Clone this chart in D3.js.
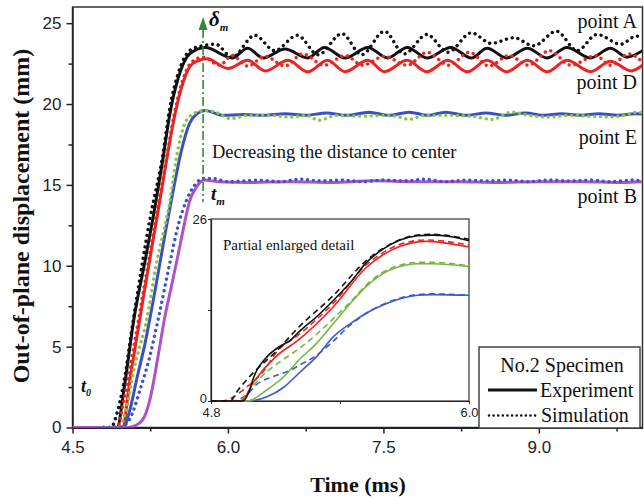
<!DOCTYPE html>
<html><head><meta charset="utf-8">
<script src="https://cdn.jsdelivr.net/npm/d3@7"></script>
<style>body{margin:0;background:#fff} svg{display:block}</style>
</head><body><svg id="c" width="644" height="500"></svg>
<script>
// ---------- data (time in ms, displacement in mm) ----------
const xMajor = [4.5, 6.0, 7.5, 9.0];
const xMinor = [5.25, 6.75, 8.25, 9.75];
const yMajor = [0, 5, 10, 15, 20, 25];
const yMinor = [2.5, 7.5, 12.5, 17.5, 22.5];
const tm = 5.76;

const pointA_exp = [[4.5,0],[4.93,0],[5.0,2.5],[5.09,6.6],[5.2,10.3],[5.3,13.8],[5.37,16.5],[5.44,19.4],[5.52,21.6],[5.63,23.1],[5.78,23.5],[6.04,22.85],[6.19,23.45],[6.34,22.85],[6.55,23.4],[6.77,22.85],[6.93,23.5],[7.13,22.85],[7.35,23.5],[7.54,22.85],[7.73,23.5],[7.92,22.85],[8.15,23.5],[8.35,22.85],[8.5,23.45],[8.69,22.85],[8.89,23.45],[9.08,22.85],[9.27,23.5],[9.5,22.85],[9.69,23.45],[9.85,22.9],[10.0,23.3]];
const pointA_sim = [[4.8,0],[4.87,0],[4.93,0.9],[4.99,2.6],[5.09,6.8],[5.25,13.0],[5.37,16.8],[5.44,19.8],[5.52,21.9],[5.63,23.3],[5.75,23.6],[5.88,23.7],[6.04,22.9],[6.26,24.25],[6.45,23.3],[6.67,24.25],[6.87,23.05],[7.1,24.35],[7.29,23.05],[7.51,24.5],[7.7,23.1],[7.92,24.3],[8.12,23.2],[8.35,24.4],[8.54,23.75],[8.76,24.1],[8.95,23.6],[9.17,24.5],[9.37,23.3],[9.56,24.3],[9.79,23.7],[9.94,24.2],[10.0,24.1]];
const pointD_exp = [[4.5,0],[4.98,0],[5.06,3.2],[5.18,7.9],[5.27,11.3],[5.35,14.3],[5.42,17.0],[5.49,19.4],[5.57,21.4],[5.66,22.5],[5.8,22.8],[6.0,22.2],[6.19,22.7],[6.36,22.05],[6.58,22.7],[6.77,22.0],[6.96,22.7],[7.13,22.0],[7.35,22.7],[7.51,22.0],[7.73,22.7],[7.92,22.0],[8.12,22.7],[8.31,22.0],[8.5,22.7],[8.69,22.0],[8.89,22.7],[9.08,22.0],[9.27,22.7],[9.5,22.0],[9.69,22.65],[9.89,22.05],[10.0,22.4]];
const pointD_sim = [[4.8,0],[4.93,0],[5.0,1.8],[5.1,5.3],[5.2,9.0],[5.3,12.8],[5.4,16.4],[5.48,19.3],[5.56,21.4],[5.65,22.6],[5.76,22.9],[5.92,22.4],[6.04,23.0],[6.19,22.35],[6.36,22.95],[6.55,22.35],[6.72,23.1],[6.93,22.4],[7.13,23.0],[7.3,22.4],[7.51,22.95],[7.73,22.4],[7.92,23.2],[8.13,22.4],[8.33,23.2],[8.52,22.35],[8.71,23.0],[8.9,22.4],[9.1,23.3],[9.31,22.4],[9.55,23.0],[9.69,22.4],[9.87,23.1],[10.0,22.6]];
const pointE_exp = [[4.5,0],[4.99,0],[5.05,1.0],[5.12,3.0],[5.2,5.2],[5.3,8.6],[5.4,12.2],[5.47,14.6],[5.55,17.1],[5.63,18.8],[5.7,19.4],[5.78,19.6],[5.95,19.3],[6.15,19.35],[6.35,19.3],[6.55,19.4],[6.75,19.3],[6.95,19.45],[7.15,19.3],[7.36,19.5],[7.55,19.3],[7.75,19.5],[7.93,19.3],[8.1,19.5],[8.3,19.3],[8.49,19.45],[8.68,19.3],[8.87,19.45],[9.05,19.3],[9.22,19.4],[9.4,19.3],[9.58,19.4],[9.76,19.3],[9.93,19.4],[10.0,19.38]];
const pointE_sim = [[4.8,0],[4.95,0],[5.02,1.2],[5.1,3.8],[5.22,6.8],[5.3,9.8],[5.44,14.0],[5.52,17.3],[5.6,19.0],[5.7,19.5],[5.78,19.6],[5.9,19.45],[6.02,19.1],[6.2,19.3],[6.4,19.3],[6.6,19.2],[6.75,19.3],[6.88,19.0],[7.05,19.3],[7.3,19.25],[7.5,19.3],[7.62,19.25],[7.75,19.05],[7.9,19.3],[8.15,19.3],[8.35,19.25],[8.55,19.05],[8.74,19.5],[8.9,19.3],[9.1,19.2],[9.3,19.3],[9.5,19.25],[9.7,19.2],[9.85,19.35],[9.96,19.5],[10.0,19.45]];
const pointB_exp = [[4.5,0],[5.03,0],[5.1,0.1],[5.18,0.5],[5.25,1.8],[5.32,4.2],[5.39,6.8],[5.45,8.6],[5.51,10.4],[5.57,12.3],[5.63,14.0],[5.7,14.9],[5.77,15.3],[5.9,15.2],[6.2,15.15],[6.6,15.2],[7.0,15.15],[7.4,15.25],[7.8,15.2],[8.2,15.2],[8.6,15.15],[9.0,15.2],[9.4,15.2],[9.8,15.15],[10.0,15.2]];
const pointB_sim = [[4.8,0],[4.95,0],[5.05,0.5],[5.15,2.3],[5.25,4.5],[5.33,6.8],[5.45,10.5],[5.52,12.5],[5.6,14.05],[5.68,15.0],[5.77,15.4],[5.85,15.4],[6.0,15.2],[6.3,15.3],[6.5,15.2],[6.7,15.35],[6.9,15.25],[7.1,15.3],[7.3,15.2],[7.5,15.3],[7.7,15.25],[7.9,15.35],[8.1,15.2],[8.3,15.3],[8.5,15.25],[8.7,15.3],[8.9,15.2],[9.1,15.3],[9.3,15.25],[9.5,15.3],[9.7,15.2],[9.9,15.3],[10.0,15.25]];

// inset (partial enlarged detail)
const insetX = [4.8, 5.4, 6.0];
const insetY = [0, 13, 26];
const inBlackExp = [[4.8,0],[4.95,0],[4.98,1.6],[5.0,3.5],[5.06,6.3],[5.12,7.8],[5.17,8.7],[5.21,9.9],[5.29,12.0],[5.37,14.4],[5.45,17.0],[5.52,19.7],[5.6,21.7],[5.68,23.0],[5.76,23.6],[5.83,23.7],[5.91,23.5],[6.0,22.9]];
const inBlackSim = [[4.8,0],[4.89,0],[4.92,1.3],[4.98,3.5],[5.1,7.0],[5.21,10.6],[5.37,15.1],[5.52,20.0],[5.6,21.8],[5.76,23.7],[5.83,23.8],[6.0,23.1]];
const inRedExp = [[4.8,0],[4.94,0],[5.0,2.8],[5.1,6.3],[5.21,8.8],[5.37,13.5],[5.52,19.0],[5.6,20.9],[5.68,22.1],[5.8,22.8],[6.0,22.0]];
const inRedSim = [[4.8,0],[4.85,0],[4.9,0.5],[4.95,1.6],[5.05,4.5],[5.1,6.8],[5.21,9.5],[5.37,14.0],[5.52,19.4],[5.6,21.2],[5.68,22.4],[5.8,23.0],[6.0,22.3]];
const inGreenExp = [[4.8,0],[4.97,0],[5.06,1.6],[5.14,3.5],[5.21,5.9],[5.29,8.2],[5.37,11.1],[5.45,14.0],[5.52,16.3],[5.6,18.2],[5.68,19.2],[5.76,19.6],[5.83,19.6],[6.0,19.2]];
const inGreenSim = [[4.8,0],[4.93,0],[4.99,2.0],[5.06,4.2],[5.14,6.0],[5.21,7.5],[5.29,9.5],[5.37,11.8],[5.45,14.2],[5.52,16.5],[5.6,18.4],[5.68,19.4],[5.76,19.8],[5.83,19.8],[6.0,19.3]];
const inBlueExp = [[4.8,0],[4.98,0],[5.06,0.6],[5.14,2.0],[5.21,4.0],[5.29,6.3],[5.37,9.2],[5.45,11.1],[5.52,12.5],[5.6,13.7],[5.68,14.6],[5.76,15.1],[5.83,15.2],[6.0,15.1]];
const inBlueSim = [[4.8,0],[4.9,0],[4.97,1.0],[5.01,2.3],[5.09,3.5],[5.17,4.4],[5.21,5.1],[5.29,6.5],[5.37,8.6],[5.45,10.9],[5.52,12.5],[5.6,13.8],[5.68,14.7],[5.76,15.2],[5.83,15.3],[6.0,15.1]];

const pointLabels = [["point A",24.7],["point D",20.9],["point E",17.5],["point B",13.9]];

// ---------- drawing ----------
const svg = d3.select('#c');
const serif = '"Liberation Serif","Times New Roman",serif';
const sans = '"Liberation Sans",Arial,sans-serif';
const x = d3.scaleLinear().domain([4.5,10]).range([72.5,642.5]);
const y = d3.scaleLinear().domain([0,26]).range([427.5,7]);

svg.append('defs').append('clipPath').attr('id','clip')
  .append('rect').attr('x',x(4.5)).attr('y',y(26)).attr('width',x(10)-x(4.5)).attr('height',y(0)-y(26));

// frame
svg.append('rect').attr('x',x(4.5)).attr('y',y(26)).attr('width',x(10)-x(4.5)).attr('height',y(0)-y(26))
  .attr('fill','none').attr('stroke','#333').attr('stroke-width',1.5);

function styleAxis(g, fs){
  g.selectAll('path.domain').attr('stroke','#222').attr('stroke-width',2);
  g.selectAll('.tick line').attr('stroke','#222').attr('stroke-width',1.5);
  g.selectAll('.tick text').attr('font-family',sans).attr('font-size',fs).attr('fill','#222');
}
const gx = svg.append('g').attr('transform',`translate(0,${y(0)})`)
  .call(d3.axisBottom(x).tickValues(xMajor).tickSize(6).tickSizeOuter(0).tickPadding(7).tickFormat(d3.format('.1f')));
styleAxis(gx, 17);
const gxm = svg.append('g').attr('transform',`translate(0,${y(0)})`)
  .call(d3.axisBottom(x).tickValues(xMinor).tickSize(4).tickSizeOuter(0).tickFormat(''));
styleAxis(gxm, 17); gxm.select('path.domain').remove();
const gy = svg.append('g').attr('transform',`translate(${x(4.5)},0)`)
  .call(d3.axisLeft(y).tickValues(yMajor).tickSize(6).tickSizeOuter(0).tickPadding(5).tickFormat(d3.format('d')));
styleAxis(gy, 17); gy.select('path.domain').attr('stroke-width',1.5);
const gym = svg.append('g').attr('transform',`translate(${x(4.5)},0)`)
  .call(d3.axisLeft(y).tickValues(yMinor).tickSize(4).tickSizeOuter(0).tickFormat(''));
styleAxis(gym, 17); gym.select('path.domain').remove();

// lines
const line = d3.line().x(d=>x(d[0])).y(d=>y(d[1])).curve(d3.curveMonotoneX);
const plot = svg.append('g').attr('clip-path','url(#clip)');
const solids = [
  {d:pointA_exp, c:'#111111'},
  {d:pointD_exp, c:'#ee2320'},
  {d:pointE_exp, c:'#3a4fc2'},
  {d:pointB_exp, c:'#b052c6'}
];
const dotted = [
  {d:pointA_sim, c:'#111111'},
  {d:pointD_sim, c:'#ee2320'},
  {d:pointE_sim, c:'#86c540'},
  {d:pointB_sim, c:'#3a52c8'}
];
solids.forEach(s=>plot.append('path').attr('d',line(s.d)).attr('fill','none')
  .attr('stroke',s.c).attr('stroke-width',3).attr('stroke-linejoin','round'));
dotted.forEach(s=>plot.append('path').attr('d',line(s.d)).attr('fill','none')
  .attr('stroke',s.c).attr('stroke-width',3.4).attr('stroke-linecap','round').attr('stroke-dasharray','0.01 5.8'));

// point labels
pointLabels.forEach(p=>svg.append('text').attr('x',637).attr('y',y(p[1])).attr('text-anchor','end')
  .attr('font-family',serif).attr('font-size',20).attr('fill','#111').text(p[0]));

// t_m arrow
const green = '#2f8a3a';
svg.append('line').attr('x1',x(tm)).attr('x2',x(tm)).attr('y1',29).attr('y2',202)
  .attr('stroke',green).attr('stroke-width',1.6).attr('stroke-dasharray','9 3 2 3');
svg.append('path').attr('d',`M${x(tm)},17 L${x(tm)-4.5},30 L${x(tm)+4.5},30 Z`).attr('fill',green);
const dm = svg.append('text').attr('x',x(tm)+6).attr('y',26).attr('font-family',serif)
  .attr('font-style','italic').attr('font-weight','bold').attr('font-size',21).attr('fill','#111').text('δ');
dm.append('tspan').attr('font-size',11).attr('dy',5).text('m');
const tmT = svg.append('text').attr('x',x(tm)+8).attr('y',200).attr('font-family',serif)
  .attr('font-style','italic').attr('font-weight','bold').attr('font-size',19).attr('fill','#111').text('t');
tmT.append('tspan').attr('font-size',11).attr('dy',5).text('m');
const t0 = svg.append('text').attr('x',81).attr('y',392).attr('font-family',serif)
  .attr('font-style','italic').attr('font-weight','bold').attr('font-size',18).attr('fill','#111').text('t');
t0.append('tspan').attr('font-size',10).attr('dy',4).text('0');

svg.append('text').attr('x',212).attr('y',158).attr('font-family',serif).attr('font-size',18.5)
  .attr('fill','#111').text('Decreasing the distance to center');

// axis titles
svg.append('text').attr('x',358).attr('y',492).attr('text-anchor','middle').attr('font-family',serif)
  .attr('font-weight','bold').attr('font-size',22).attr('fill','#111').text('Time (ms)');
svg.append('text').attr('transform','translate(29,216) rotate(-90)').attr('text-anchor','middle')
  .attr('font-family',serif).attr('font-weight','bold').attr('font-size',24).attr('fill','#111')
  .text('Out-of-plane displacement (mm)');

// ---------- inset ----------
const xi = d3.scaleLinear().domain([4.8,6.0]).range([211,469]);
const yi = d3.scaleLinear().domain([0,26]).range([401,219]);
svg.append('rect').attr('x',xi(4.8)).attr('y',yi(26)).attr('width',xi(6)-xi(4.8)).attr('height',yi(0)-yi(26))
  .attr('fill','#fff').attr('stroke','#333').attr('stroke-width',1.2);
const gxi = svg.append('g').attr('transform',`translate(0,${yi(0)})`)
  .call(d3.axisBottom(xi).tickValues(insetX).tickSize(3).tickSizeOuter(0).tickPadding(4)
  .tickFormat(d=> (d===5.4 ? '' : d3.format('.1f')(d))));
styleAxis(gxi, 13); gxi.select('path.domain').attr('stroke-width',1.2);
gxi.selectAll('.tick line').attr('stroke-width',1);
const gyi = svg.append('g').attr('transform',`translate(${xi(4.8)},0)`)
  .call(d3.axisLeft(yi).tickValues(insetY).tickSize(3).tickSizeOuter(0).tickPadding(1)
  .tickFormat(d=> (d===13 ? '' : d3.format('d')(d))));
styleAxis(gyi, 13); gyi.select('path.domain').attr('stroke-width',1.2);
gyi.selectAll('.tick line').attr('stroke-width',1);
gyi.selectAll('.tick text').filter(d=>d===0).attr('dy','0.15em');

const lineI = d3.line().x(d=>xi(d[0])).y(d=>yi(d[1])).curve(d3.curveMonotoneX);
const insetSeries = [
  {d:inBlueExp, c:'#3d5bc8', dash:null},
  {d:inBlueSim, c:'#3d5bc8', dash:'6 4'},
  {d:inGreenExp, c:'#76b443', dash:null},
  {d:inGreenSim, c:'#76b443', dash:'6 4'},
  {d:inRedExp, c:'#ee2320', dash:null},
  {d:inRedSim, c:'#ee2320', dash:'6 4'},
  {d:inBlackExp, c:'#111111', dash:null},
  {d:inBlackSim, c:'#111111', dash:'6 4'}
];
insetSeries.forEach(s=>{
  const p = svg.append('path').attr('d',lineI(s.d)).attr('fill','none').attr('stroke',s.c).attr('stroke-width',1.6);
  if(s.dash) p.attr('stroke-dasharray',s.dash);
});
svg.append('text').attr('x',223).attr('y',250).attr('font-family',serif).attr('font-size',15)
  .attr('fill','#111').text('Partial enlarged detail');

// ---------- legend ----------
svg.append('rect').attr('x',479).attr('y',347).attr('width',161).attr('height',81)
  .attr('fill','#fff').attr('stroke','#444').attr('stroke-width',1.5);
svg.append('text').attr('x',562).attr('y',372).attr('text-anchor','middle').attr('font-family',serif)
  .attr('font-size',20).attr('fill','#111').text('No.2 Specimen');
svg.append('line').attr('x1',488).attr('x2',537).attr('y1',390).attr('y2',390).attr('stroke','#111').attr('stroke-width',3);
svg.append('line').attr('x1',489).attr('x2',537).attr('y1',415.5).attr('y2',415.5).attr('stroke','#111')
  .attr('stroke-width',2.6).attr('stroke-linecap','round').attr('stroke-dasharray','0.01 4.6');
svg.append('text').attr('x',540).attr('y',397).attr('font-family',serif).attr('font-size',20).attr('fill','#111').text('Experiment');
svg.append('text').attr('x',541).attr('y',422).attr('font-family',serif).attr('font-size',20).attr('fill','#111').text('Simulation');
</script></body></html>
